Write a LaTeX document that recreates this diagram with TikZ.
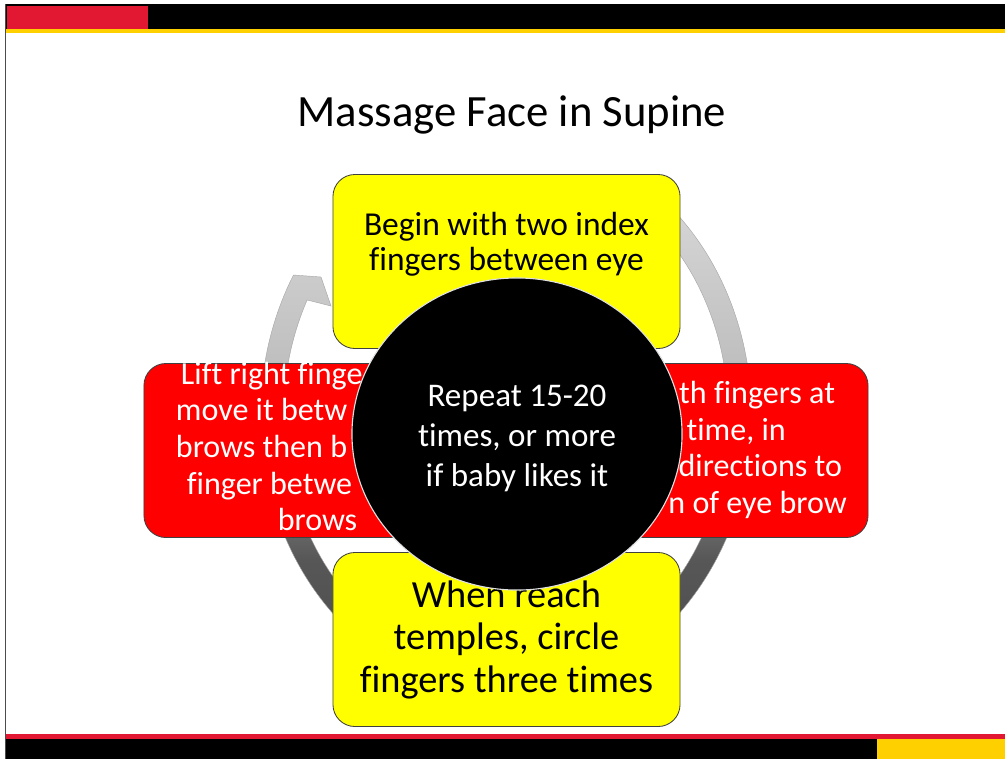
\documentclass[tikz,border=0pt]{standalone}
\usepackage{fontspec}
\setmainfont{Carlito}[Ligatures=NoCommon]
\usetikzlibrary{shapes.geometric}
\definecolor{umdred}{RGB}{226,24,51}
\definecolor{umdgold}{RGB}{255,208,0}
\definecolor{cardyellow}{RGB}{255,255,0}
\definecolor{cardred}{RGB}{255,0,0}
\pgfdeclareverticalshading{ringshade}{100bp}{color(0bp)=(black!72); color(25bp)=(black!72); color(41bp)=(black!66); color(50bp)=(black!45); color(58bp)=(black!26); color(75bp)=(black!16); color(100bp)=(black!16)}

\begin{document}
\begin{tikzpicture}[x=0.025cm, y=-0.025cm,
  card/.style={draw=black!75, line width=0.6pt, rounded corners=0.55cm, minimum width=8.675cm, minimum height=4.35cm, inner sep=0},
  ytxt/.style={align=center, text=black},
  wtxt/.style={align=center, text=white, font=\fontsize{22.8}{26.1}\selectfont}]
\useasboundingbox (0,0) rectangle (1005,759);
\fill[white] (0,0) rectangle (1005,759);
% header and footer bars
\fill[black] (5,4) rectangle (1005,29);
\fill[umdred] (7,6) rectangle (148,29);
\fill[umdgold] (5,29) rectangle (1005,33);
\fill[umdred] (5,734) rectangle (1005,739);
\fill[black] (5,739) rectangle (1005,759);
\fill[umdgold] (877,739) rectangle (1005,759);
\draw[black!70, line width=0.5pt] (5,4) -- (5,759);

\node[anchor=base, font=\fontsize{31.8}{36}\selectfont] (title) at (512,126.7) {Massage Face in Supine};

% cycle arrow behind the cards
\begin{scope}[shift={(506,415)}]
\shadedraw[shading=ringshade, draw=black!35, line width=0.3pt]
  (-50:245.4 and 280) arc[start angle=-50, end angle=210, x radius=245.4, y radius=280]
  -- (-185,-138) -- (-175,-109)
  -- (206.6:222.4 and 257) arc[start angle=206.6, end angle=-50, x radius=222.4, y radius=257] -- cycle;
\end{scope}

\node[card, fill=cardyellow] (begin) at (506.5,261.5) {};
\node[card, fill=cardred] (lift) at (317.5,450.5) {};
\node[card, fill=cardred] (both) at (694.5,450.5) {};
\node[card, fill=cardyellow] (temples) at (506.5,639.5) {};

\node[ytxt, font=\fontsize{23.8}{24.9}\selectfont] (begintxt) at (506.5,244.2) {Begin with two index\\fingers between eye};
\node[wtxt] (lifttxt) at (317.5,446.4) {\makebox[6.825cm][l]{Lift right finge}\\\makebox[7.075cm][l]{move it betw}\\\makebox[7.075cm][l]{brows then b}\\\makebox[6.525cm][l]{finger betwe}\\brows};
\node[wtxt] (bothtxt) at (694.5,450) {\makebox[7.025cm][r]{th fingers at}\\\makebox[4.56cm][r]{time, in}\\\makebox[7.375cm][r]{directions to}\\\makebox[7.61cm][r]{n of eye brow}};
\node[ytxt, font=\fontsize{27.3}{30.2}\selectfont] (templestxt) at (506.5,639.7) {When reach\\temples, circle\\fingers three times};

\node[ellipse, fill=black, draw=black!12, line width=0.8pt, minimum width=8.25cm, minimum height=7.8cm, inner sep=0] (hub) at (517,434) {};
\node[wtxt, font=\fontsize{23.5}{28.5}\selectfont] (hubtxt) at (517,438.5) {Repeat 15-20\\times, or more\\if baby likes it};
\end{tikzpicture}
\end{document}
